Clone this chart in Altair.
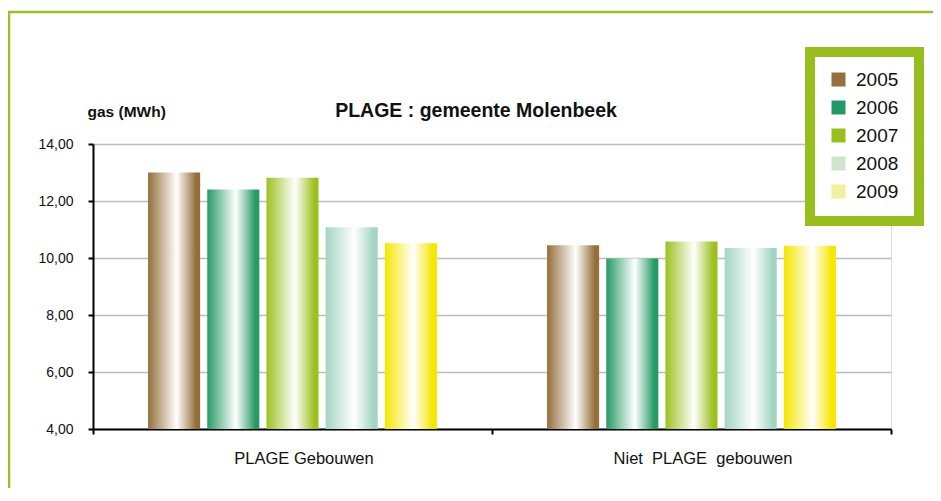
import altair as alt
import pandas as pd

title_text = "PLAGE : gemeente Molenbeek"
y_title = "gas (MWh)"
categories = ["PLAGE Gebouwen", "Niet\u00a0 PLAGE\u00a0 gebouwen"]
years = ["2005", "2006", "2007", "2008", "2009"]
values_plage = [13.00, 12.40, 12.82, 11.08, 10.52]
values_niet = [10.45, 9.98, 10.58, 10.35, 10.43]
bar_colors = ["#946f3b", "#279a68", "#9cc11f", "#a3d5c3", "#f6e600"]
legend_colors = ["#94713c", "#23996a", "#99bf1f", "#cde5cc", "#f4ef9e"]
y_ticks = [4, 6, 8, 10, 12, 14]

rows = []
for cat, vals in zip(categories, [values_plage, values_niet]):
    for yr, v in zip(years, vals):
        rows.append({"category": cat, "year": yr, "value": v})
df = pd.DataFrame(rows)

FONT = "Liberation Sans"
GREEN = "#97bd1e"

x_enc = alt.X("category:N", sort=categories,
              scale=alt.Scale(paddingInner=0, paddingOuter=0),
              axis=alt.Axis(title=None, labelAngle=0, labelFontSize=16.5, labelFont=FONT,
                            labelColor="#111111", labelPadding=16, labelOffset=11,
                            tickBand="extent", tickSize=5, tickWidth=2, tickColor="black",
                            domainColor="black", domainWidth=2, grid=False))
xoff_enc = alt.XOffset("year:N", scale=alt.Scale(domain=years, paddingInner=0.12, paddingOuter=0.93))
y_enc = alt.Y("value:Q",
              scale=alt.Scale(domain=[4, 14], nice=False, zero=False),
              axis=alt.Axis(values=y_ticks, title=y_title, titleAngle=0, titleAlign="left",
                            titleBaseline="alphabetic", titleX=-6, titleY=-28, titleFontSize=15.5,
                            titleFont=FONT, titleFontWeight="bold", titleColor="#111111",
                            labelExpr="replace(format(datum.value, '.2f'), '.', ',')",
                            labelFontSize=14, labelFont=FONT, labelColor="#111111", labelPadding=15,
                            tickSize=5, tickWidth=2, tickColor="black",
                            domainColor="black", domainWidth=2,
                            grid=True, gridColor="#bdbdbd", gridWidth=1.6))

frame = alt.Chart(alt.Data(values=[{"a": 1}])).mark_rect(
    fill="transparent", stroke="#9ac124", strokeWidth=2.5
).encode(x=alt.value(-84), x2=alt.value(2000), y=alt.value(-132), y2=alt.value(1000))

title_layer = alt.Chart(alt.Data(values=[{"t": title_text}])).mark_text(
    font=FONT, fontSize=19.5, fontWeight="bold", color="#111111",
    align="center", baseline="alphabetic"
).encode(text="t:N", x=alt.value(383), y=alt.value(-27))

layers = [frame, title_layer]
for yr, col in zip(years, bar_colors):
    grad = alt.LinearGradient(
        gradient="linear",
        stops=[alt.GradientStop(color=col, offset=0),
               alt.GradientStop(color="#ffffff", offset=0.55),
               alt.GradientStop(color=col, offset=0.92),
               alt.GradientStop(color=col, offset=1)],
        x1=0, x2=1, y1=0, y2=0)
    layer = alt.Chart(df).transform_filter(alt.datum.year == yr).mark_bar(
        fill=grad, clip=True
    ).encode(x=x_enc, xOffset=xoff_enc, y=y_enc)
    layers.append(layer)

legend_box = alt.Chart(alt.Data(values=[{"a": 1}])).mark_rect(
    fill="white", stroke=GREEN, strokeWidth=10
).encode(x=alt.value(717), x2=alt.value(826), y=alt.value(-92), y2=alt.value(77))
layers.append(legend_box)

legend_layer = alt.Chart(df).mark_square(opacity=0, size=1).encode(
    x=x_enc, xOffset=xoff_enc, y=y_enc,
    color=alt.Color("year:N", scale=alt.Scale(domain=years, range=legend_colors),
                    legend=alt.Legend(title=None, orient="none", legendX=717, legendY=-93,
                                      symbolType="square", symbolSize=196, symbolOpacity=1,
                                      symbolStrokeWidth=0,
                                      labelFontSize=19, labelFont=FONT, labelColor="#111111",
                                      labelOffset=8, rowPadding=8, padding=19))
)
layers.append(legend_layer)

chart = alt.layer(*layers).properties(
    width=798, height=285,
    autosize=alt.AutoSizeParams(type="none"),
    padding={"left": 85, "top": 136, "right": 42, "bottom": 59},
).configure_view(stroke=None).configure(background="white")

chart.save("out.html", embed_options={"renderer": "svg", "actions": False})
